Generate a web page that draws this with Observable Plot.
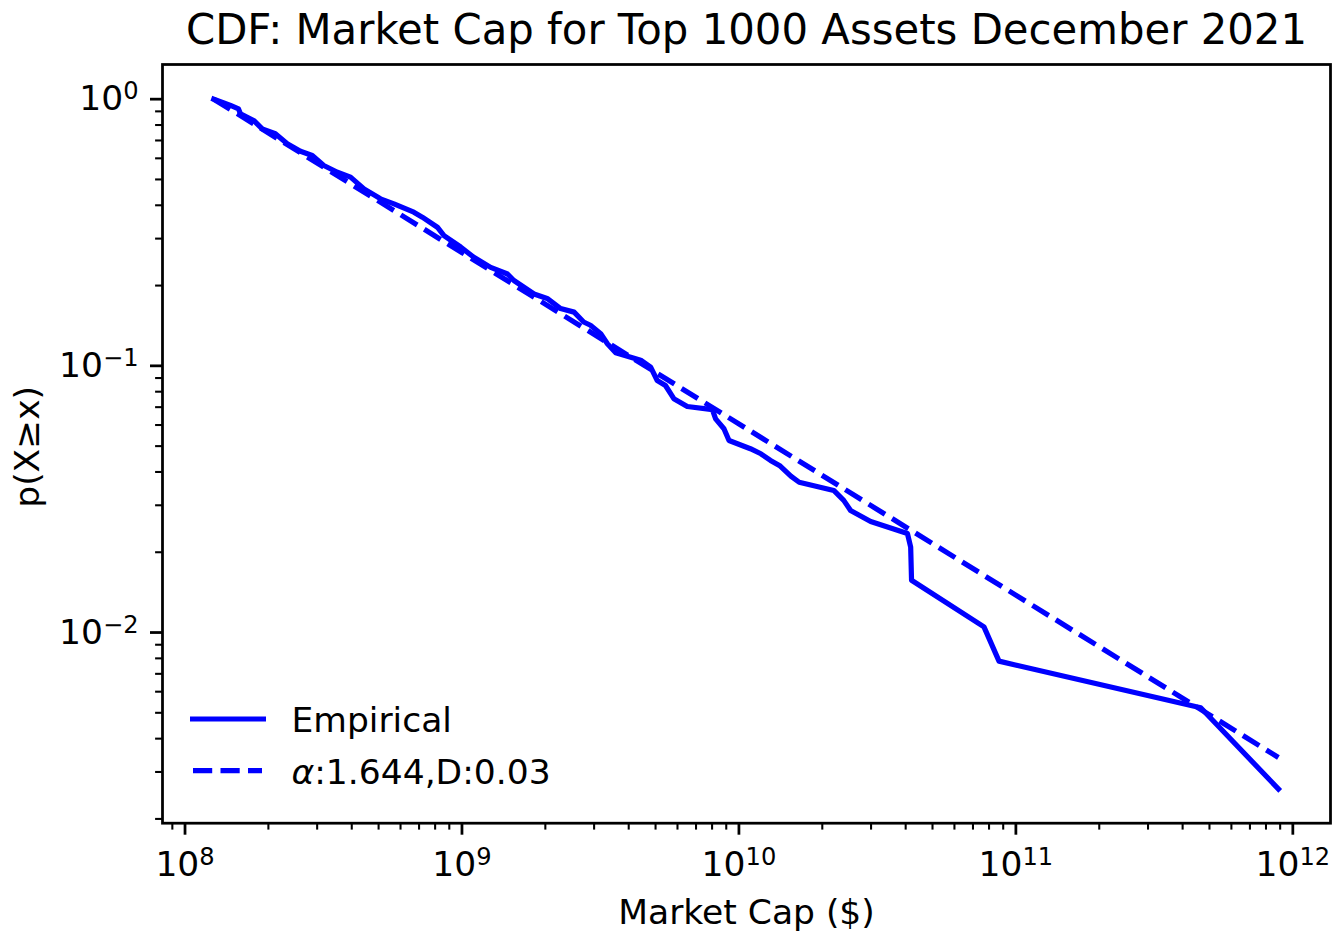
<!DOCTYPE html>
<html><head><meta charset="utf-8">
<script src="https://cdn.jsdelivr.net/npm/d3@7"></script>
<script src="https://cdn.jsdelivr.net/npm/@observablehq/plot@0.6"></script>
<style>html,body{margin:0;padding:0;background:#fff;} svg{display:block;}</style>
</head><body><div id="chart"></div>
<script>
// ---- text ----
const titleText = "CDF: Market Cap for Top 1000 Assets December 2021";
const xLabel = "Market Cap ($)";
const yLabel = "p(X≥x)";
const legendLabels = ["Empirical", "α:1.644,D:0.03"];

// ---- empirical CCDF ----
const empiricalCap = [1.27e8, 1.46e8, 1.56e8, 1.585e8, 1.77e8, 1.90e8, 2.12e8, 2.34e8, 2.61e8, 2.88e8,
  3.17e8, 3.55e8, 3.96e8, 4.43e8, 5.08e8, 5.68e8, 6.70e8, 7.19e8, 8.15e8, 8.61e8,
  9.89e8, 1.10e9, 1.27e9, 1.46e9, 1.54e9, 1.82e9, 2.03e9, 2.27e9, 2.54e9, 2.75e9,
  2.91e9, 3.17e9, 3.35e9, 3.59e9, 4.42e9, 4.80e9, 5.07e9, 5.43e9, 5.82e9, 6.51e9,
  8.02e9, 8.24e9, 8.83e9, 9.21e9, 1.10e10, 1.20e10, 1.30e10, 1.41e10, 1.54e10, 1.65e10,
  2.20e10, 2.39e10, 2.53e10, 2.99e10, 4.06e10, 4.17e10, 4.20e10, 7.67e10, 8.69e10, 4.65e11, 8.87e11];
const empiricalP = [1.0, 0.947, 0.920, 0.882, 0.832, 0.774, 0.742, 0.681, 0.638, 0.615,
  0.564, 0.532, 0.510, 0.461, 0.423, 0.405, 0.377, 0.361, 0.331, 0.308,
  0.279, 0.256, 0.234, 0.221, 0.209, 0.186, 0.179, 0.164, 0.159, 0.146,
  0.142, 0.132, 0.121, 0.112, 0.105, 0.0989, 0.0881, 0.0844, 0.0753, 0.0704,
  0.0685, 0.0633, 0.0581, 0.0525, 0.0489, 0.0468, 0.0442, 0.0421, 0.0386, 0.0366,
  0.0341, 0.0313, 0.0287, 0.0261, 0.0235, 0.0209, 0.0157, 0.0105, 0.00781, 0.00522, 0.00259];

// ---- power-law fit (end points) ----
const fitCap = [1.27e8, 8.87e11];
const fitP = [1.0, 0.0034];

// ---- ticks ----
const xMajorExp = [8, 9, 10, 11, 12];
const yMajorExp = [0, -1, -2];
const minorMult = [2, 3, 4, 5, 6, 7, 8, 9];
const xDomain = [10 ** 7.9187, 10 ** 12.136];
const yDomain = [10 ** -2.715, 10 ** 0.130];

function minorTicks(fromExp, toExp, dom) {
  const out = [];
  for (let e = fromExp; e <= toExp; e++) for (const m of minorMult) {
    const v = m * 10 ** e;
    if (v >= dom[0] && v <= dom[1]) out.push(v);
  }
  return out;
}
const xMinorTicks = minorTicks(7, 12, xDomain);
const yMinorTicks = minorTicks(-3, 0, yDomain);

const empirical = empiricalCap.map((c, i) => ({cap: c, p: empiricalP[i]}));
const fit = fitCap.map((c, i) => ({cap: c, p: fitP[i]}));

const FS = 34.5;
const BLUE = "#0000ff";
const expFmt = d => "10^" + Math.round(Math.log10(d));

const plot = Plot.plot({
  width: 1342, height: 931,
  marginTop: 64, marginLeft: 162, marginRight: 12, marginBottom: 108.3,
  x: {type: "log", domain: xDomain},
  y: {type: "log", domain: yDomain},
  style: {fontFamily: "DejaVu Sans", fontSize: FS + "px", background: "white", color: "black", overflow: "visible"},
  marks: [
    Plot.line(empirical, {x: "cap", y: "p", stroke: BLUE, strokeWidth: 5.2, strokeLinejoin: "round", strokeLinecap: "square"}),
    Plot.line(fit, {x: "cap", y: "p", stroke: BLUE, strokeWidth: 5.2, strokeDasharray: "19.2,8.3", strokeLinecap: "butt"}),
    Plot.axisX({ticks: xMinorTicks, tickSize: 6.9, strokeWidth: 2.07, fill: "none", tickFormat: () => "", label: null}),
    Plot.axisX({ticks: xMajorExp.map(e => 10 ** e), tickSize: 12, strokeWidth: 2.76, tickPadding: 16, tickFormat: expFmt, label: null}),
    Plot.axisY({ticks: yMinorTicks, tickSize: 6.9, strokeWidth: 2.07, fill: "none", tickFormat: () => "", label: null}),
    Plot.axisY({ticks: yMajorExp.map(e => 10 ** e), tickSize: 12, strokeWidth: 2.76, tickPadding: 12, tickFormat: expFmt, label: null}),
    Plot.frame({stroke: "black", strokeWidth: 2.76}),
    Plot.text([titleText], {frameAnchor: "top", text: d => d, fontSize: 41.8, lineAnchor: "bottom", dy: -20.7}),
    Plot.text([xLabel], {frameAnchor: "bottom", text: d => d, lineAnchor: "bottom", dy: 100.3}),
    Plot.text([yLabel], {frameAnchor: "left", textAnchor: "middle", text: d => d, rotate: -90, dx: -134.5, dy: 3})
  ]
});

// superscript exponents in tick labels
d3.select(plot).selectAll("text").each(function () {
  const t = this.textContent;
  if (!t.startsWith("10^")) return;
  const exp = t.slice(3).replace("-", "\u2212");
  const sel = d3.select(this);
  sel.text(null);
  sel.append("tspan").text("10");
  sel.append("tspan").attr("dy", "-0.45em").style("font-size", "70%").text(exp);
});

// legend (inside the frame, lower-left)
const sx = plot.scale("x"), sy = plot.scale("y");
const fL = sx.range[0], fB = sy.range[0];
const lg = d3.select(plot).append("g")
  .attr("font-family", "DejaVu Sans").attr("font-size", FS).attr("text-anchor", "start");
const rows = [
  {dash: null, cap: "square", x1: 30.6, x2: 101.4, lineY: -103.7, textY: -90.4},
  {dash: "19.2,8.3", cap: "butt", x1: 31, x2: 100, lineY: -52, textY: -38.7}
];
rows.forEach((r, i) => {
  const ln = lg.append("line")
    .attr("x1", fL + r.x1).attr("x2", fL + r.x2)
    .attr("y1", fB + r.lineY).attr("y2", fB + r.lineY)
    .attr("stroke", BLUE).attr("stroke-width", 5.2).attr("stroke-linecap", r.cap);
  if (r.dash) ln.attr("stroke-dasharray", r.dash);
  const tx = lg.append("text").attr("x", fL + 129.5).attr("y", fB + r.textY).attr("fill", "black");
  const lab = legendLabels[i];
  if (lab.startsWith("α")) {
    tx.append("tspan").attr("font-style", "italic").text("α");
    tx.append("tspan").text(lab.slice(1));
  } else tx.text(lab);
});

document.getElementById("chart").append(plot);
</script>
</body></html>
